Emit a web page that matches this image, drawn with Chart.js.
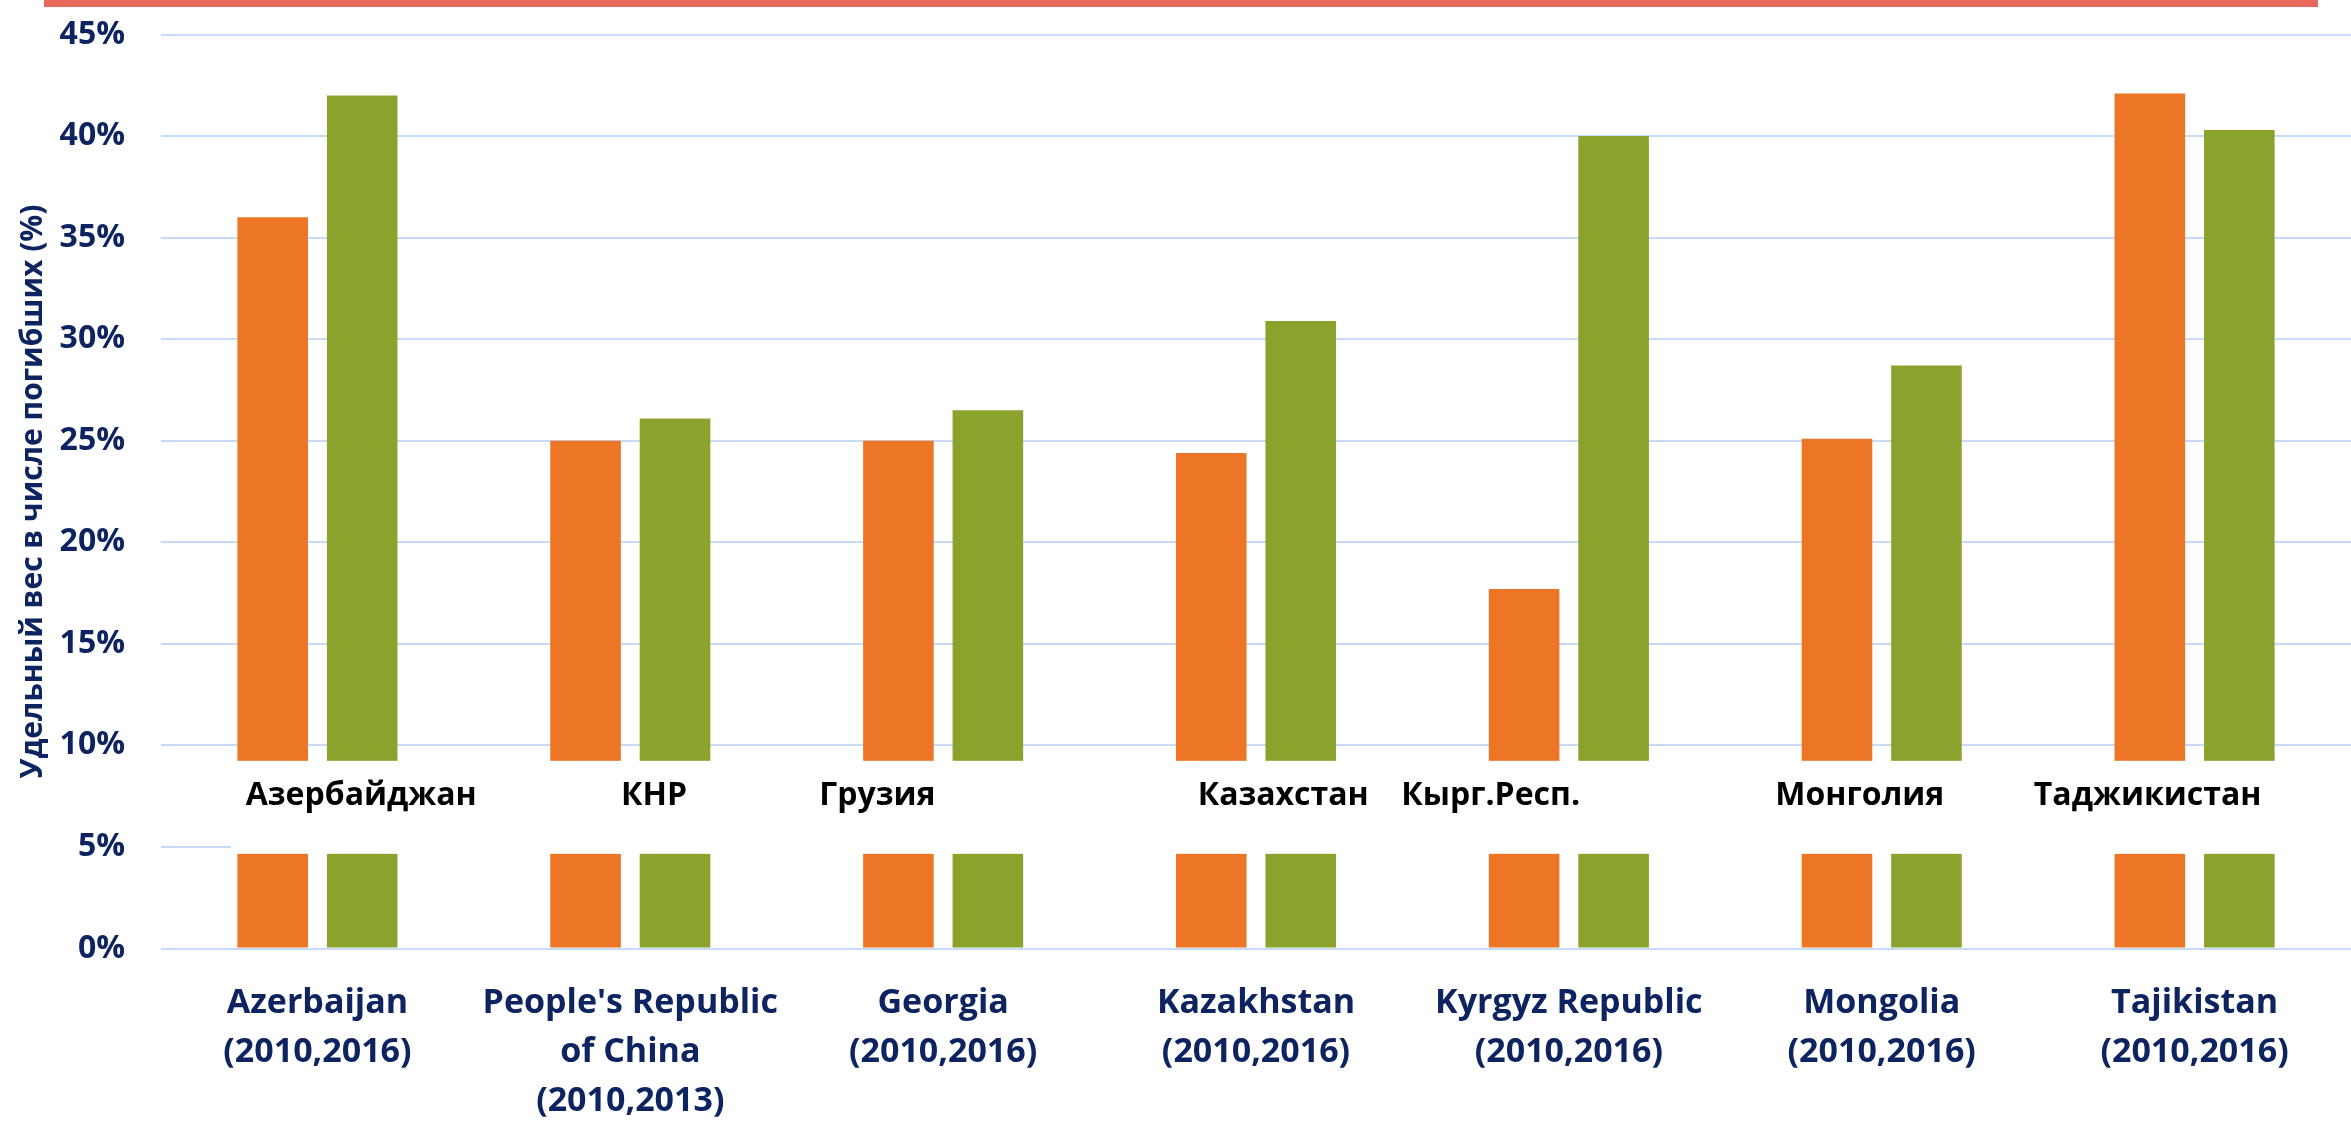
<!DOCTYPE html>
<html>
<head>
<meta charset="utf-8">
<script src="https://cdn.jsdelivr.net/npm/chart.js@4"></script>
<style>
  html, body { margin: 0; padding: 0; background: #fff; }
  #wrap { width: 2351px; height: 1127px; position: relative; }
</style>
</head>
<body>
<div id="wrap"><canvas id="deathChart"></canvas></div>
<script>
// data
const categoriesEn = [
  ['Azerbaijan', '(2010,2016)'],
  ["People's Republic", 'of China', '(2010,2013)'],
  ['Georgia', '(2010,2016)'],
  ['Kazakhstan', '(2010,2016)'],
  ['Kyrgyz Republic', '(2010,2016)'],
  ['Mongolia', '(2010,2016)'],
  ['Tajikistan', '(2010,2016)']
];
const categoriesRu = ['Азербайджан', 'КНР', 'Грузия', 'Казахстан', 'Кырг.Респ.', 'Монголия', 'Таджикистан'];
const valuesFirstYear = [36, 25, 25, 24.4, 17.7, 25.1, 42.1];
const valuesLastYear = [42, 26.1, 26.5, 30.9, 40, 28.7, 40.3];
const yTickValues = [0, 5, 10, 15, 20, 25, 30, 35, 40, 45];
const yAxisTitle = 'Удельный вес в числе погибших (%)';

// layout of the axis break and the russian names
const breakFrom = 4.66;
const breakTo = 9.24;
const ruLabelValue = 7.05;
const ruLabelShift = [0.14, 0.076, -0.21, 0.087, -0.25, -0.07, -0.15];

const navy = '#0D2461';
const gridBlue = '#C7DAF8';

// white break band, russian labels, red rule on top
const decorPlugin = {
  id: 'decor',
  afterDatasetsDraw(chart) {
    const ctx = chart.ctx;
    const x = chart.scales.x;
    const y = chart.scales.y;
    const top = y.getPixelForValue(breakTo);
    const bottom = y.getPixelForValue(breakFrom);
    ctx.save();
    ctx.fillStyle = '#fff';
    ctx.fillRect(chart.chartArea.left + 70, top, chart.width, bottom - top);

    ctx.fillStyle = '#000';
    ctx.font = 'bold 32px "Open Sans"';
    ctx.textAlign = 'center';
    ctx.textBaseline = 'alphabetic';
    const step = x.getPixelForValue(1) - x.getPixelForValue(0);
    categoriesRu.forEach((name, i) => {
      const px = x.getPixelForValue(i) + ruLabelShift[i] * step;
      ctx.fillText(name, px, y.getPixelForValue(ruLabelValue));
    });
    ctx.restore();
  },
  afterDraw(chart) {
    const ctx = chart.ctx;
    ctx.save();
    ctx.fillStyle = '#E8695B';
    ctx.fillRect(44, 0, 2274, 7);
    ctx.restore();
  }
};

const ctx = document.getElementById('deathChart').getContext('2d');
const deathChart = new Chart(ctx, {
  type: 'bar',
  data: {
    labels: categoriesEn,
    datasets: [
      {
        label: '2010',
        data: valuesFirstYear,
        backgroundColor: '#ED7626',
        categoryPercentage: 0.572,
        barPercentage: 0.789
      },
      {
        label: 'last year',
        data: valuesLastYear,
        backgroundColor: '#8BA32C',
        categoryPercentage: 0.572,
        barPercentage: 0.789
      }
    ]
  },
  options: {
    responsive: true,
    maintainAspectRatio: false,
    animation: false,
    layout: {
      padding: { top: 34.5, right: -13, left: 0, bottom: 0 }
    },
    plugins: {
      legend: { display: false },
      tooltip: { enabled: false }
    },
    scales: {
      x: {
        grid: { display: false },
        border: { display: false },
        ticks: {
          color: navy,
          padding: 22,
          maxRotation: 0,
          autoSkip: false,
          font: { family: 'Open Sans', weight: 'bold', size: 34, lineHeight: 1.45 }
        },
        afterFit(scale) { scale.height = 178.5; }
      },
      y: {
        min: 0,
        max: 45,
        afterBuildTicks(scale) {
          scale.ticks = yTickValues.map(v => ({ value: v }));
        },
        grid: { color: gridBlue, lineWidth: 2, drawTicks: false },
        border: { display: false },
        ticks: {
          color: navy,
          padding: 36,
          font: { family: 'Open Sans', weight: 'bold', size: 32 },
          callback: v => v + '%'
        },
        title: {
          display: true,
          text: yAxisTitle,
          color: navy,
          padding: { top: 15, bottom: 0 },
          font: { family: 'Open Sans', weight: 'bold', size: 30, lineHeight: 1.2 }
        },
        afterFit(scale) {
          scale.width = 161;
          scale.paddingTop = 0;
          scale.paddingBottom = 0;
        }
      }
    }
  },
  plugins: [decorPlugin]
});
</script>
</body>
</html>
